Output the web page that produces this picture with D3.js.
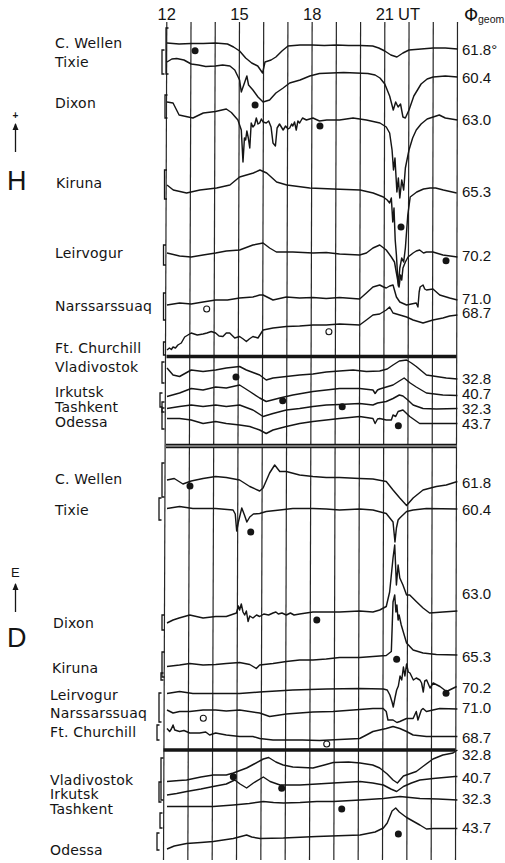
<!DOCTYPE html>
<html>
<head>
<meta charset="utf-8">
<script src="https://cdn.jsdelivr.net/npm/d3@7"></script>
<style>
body { margin: 0; background: #fff; }
svg text { fill: #141414; }
.name { font-family: "DejaVu Sans", sans-serif; font-size: 14px; letter-spacing: 0.2px; }
.lat { font-family: "Liberation Sans", sans-serif; font-size: 15px; }
.hdr { font-family: "Liberation Sans", sans-serif; font-size: 16.5px; }
</style>
</head>
<body>
<svg width="505" height="863"></svg>
<script>
// --- data (hour UT, trace level in chart units) ---
const gridHours = [12, 13, 14, 15, 16, 17, 18, 19, 20, 21, 22, 23, 24];
const hourLabels = ["12", "15", "18", "21"];
const stations = ["C. Wellen", "Tixie", "Dixon", "Kiruna", "Leirvogur", "Narssarssuaq",
  "Ft. Churchill", "Vladivostok", "Irkutsk", "Tashkent", "Odessa"];
const latH = ["61.8°", "60.4", "63.0", "65.3", "70.2", "71.0", "68.7", "32.8", "40.7", "32.3", "43.7"];
const latD = ["61.8", "60.4", "63.0", "65.3", "70.2", "71.0", "68.7", "32.8", "40.7", "32.3", "43.7"];

// H component
const hCWellen = [[12,43],[12.5,44],[13,43.5],[13.5,43.5],[14,43],[14.5,44],[14.75,47],[15,51],[15.25,58],[15.5,63],[15.75,66],[15.95,73],[16.05,62],[16.3,60],[16.5,57],[16.75,51],[17,46],[17.5,45],[18,45],[18.5,45.5],[19,45],[19.5,45.5],[20,45.5],[20.5,46],[20.75,48],[21,51],[21.25,55],[21.5,57],[21.75,53],[22,50],[22.5,49],[23,48],[23.5,48],[24,49]];
const hTixie = [[12,62],[12.2,59],[12.4,58.5],[12.7,60],[13,64],[13.3,65],[13.6,66.5],[14,66],[14.3,65],[14.6,66],[14.8,70],[15,80],[15.07,92],[15.2,83],[15.3,76],[15.37,85],[15.55,90],[15.76,97],[15.97,102],[16.24,100],[16.5,93],[16.8,88],[17.07,83],[17.5,80],[17.9,76],[18.3,73.5],[18.8,73],[19.3,72.5],[19.8,73],[20.3,73.5],[20.6,75],[20.8,78],[21,84],[21.2,96],[21.35,110],[21.45,102],[21.55,107],[21.65,104],[21.75,117],[21.85,118],[22,110],[22.2,96],[22.5,84],[22.75,79],[23,77],[23.5,76],[24,77]];
const hDixon = [[12,102],[12.25,103],[12.5,115],[13.07,118],[13.5,113],[14,111.5],[14.45,109],[14.66,112.5],[14.93,120],[15.07,130],[15.14,162],[15.2,138],[15.25,140],[15.3,131],[15.36,138],[15.42,148],[15.48,123],[15.55,127],[15.62,125],[15.69,118],[15.76,124],[15.83,123],[15.9,119],[15.97,122],[16.1,123],[16.2,121],[16.3,127],[16.38,143],[16.48,146],[16.55,128],[16.65,124],[16.8,130],[16.9,126],[17,129],[17.07,128],[17.15,124],[17.2,126],[17.27,122],[17.34,130],[17.41,121],[17.48,123],[17.6,118],[17.76,120],[18.03,118],[18.3,121],[18.6,120],[19.13,120],[19.69,118],[20.24,120],[20.8,123],[21.06,127],[21.2,133],[21.3,150],[21.36,170],[21.42,158],[21.5,192],[21.56,178],[21.62,198],[21.7,180],[21.78,190],[21.85,168],[22,150],[22.15,138],[22.3,130],[22.5,124],[22.75,119],[23,117],[23.25,115],[23.5,118],[24,120]];
const hKiruna = [[12,185],[12.26,190],[12.81,193],[13.36,190],[14.05,188],[14.6,185],[15,177],[15.57,173],[15.84,170],[16.12,173],[16.53,182],[16.95,185],[17.9,188],[18.87,189],[19.98,190],[20.52,193],[20.94,197],[21.1,200],[21.2,203],[21.27,198],[21.33,222],[21.38,208],[21.43,240],[21.48,255],[21.52,272],[21.56,286],[21.62,268],[21.7,258],[21.78,262],[21.85,248],[21.95,215],[22.05,197],[22.32,192],[22.6,189],[22.87,188],[23.1,188],[23.42,190],[23.97,193]];
const hLeirvogur = [[12,253],[12.52,256],[13,257],[13.49,255],[14.01,253],[14.45,251],[15,250],[15.55,245],[15.97,243],[16.24,248],[16.52,252],[17.2,252],[18.03,253],[18.58,252.5],[19.13,254],[19.96,255],[20.24,253],[20.51,248],[20.79,245],[21.06,250],[21.27,257],[21.4,262],[21.48,273],[21.53,280],[21.59,287],[21.65,275],[21.7,280],[21.75,268],[21.85,262],[21.96,257],[22.17,253],[22.3,251],[22.44,250],[22.6,253],[22.72,252],[22.99,252],[23.4,255],[24,257]];
const hNarssarssuaq = [[12,305],[12.52,303],[13,304],[13.49,302],[14.01,300],[14.5,300],[15,298],[15.55,297],[15.83,295],[15.97,295],[16.38,300],[16.93,297],[17.48,298],[18.03,297.5],[18.58,298.5],[19.13,297.5],[19.96,299],[20.24,293],[20.51,287],[20.79,285],[20.95,287],[21.06,288],[21.2,286],[21.34,285],[21.48,297],[21.62,302],[21.9,305],[22.1,304],[22.3,303],[22.37,307],[22.42,292],[22.46,287],[22.58,285],[22.65,289],[22.72,290],[22.99,289],[23.27,295],[23.68,298],[24,300]];
const hFtChurchill = [[12,350],[12.1,348],[12.18,349.5],[12.25,347],[12.35,348],[12.45,345],[12.59,343],[12.73,337],[13,333],[13.25,335],[13.49,334],[13.65,333],[13.83,331.5],[14.01,333],[14.15,336],[14.31,336.5],[14.45,333],[14.59,333],[14.8,338],[15,336.5],[15.15,339],[15.28,341.5],[15.4,339],[15.55,336.5],[15.76,338],[15.97,330],[16.38,328],[16.93,326.5],[17.48,326],[18.03,325],[18.58,325],[19.13,324],[19.96,325],[20.24,320],[20.51,315],[20.79,314],[21.06,310],[21.2,307],[21.34,313],[21.62,315],[21.9,317],[22.17,320],[22.58,323],[22.99,320],[23.4,318],[23.68,316],[24,315]];
const hVladivostok = [[12,368],[12.25,375],[12.52,376.5],[13,370],[13.49,371.5],[14.01,370],[14.45,368],[15,366.5],[15.28,370],[15.83,375],[16.1,380],[16.38,378],[16.93,376.5],[17.48,375],[18.03,374],[18.58,372],[19.13,371],[19.69,370],[20.24,371.5],[20.79,371],[21.1,369],[21.34,365],[21.6,361],[21.9,360],[22.1,363],[22.3,366.5],[22.72,375],[23.13,376.5],[23.54,378],[24,379]];
const hIrkutsk = [[12,396.5],[12.52,393],[13,388.5],[13.49,390],[14.01,387],[14.45,388],[15,385],[15.42,391.5],[15.83,398],[16.1,401.5],[16.66,398],[17.2,395],[18.03,391.5],[18.58,390],[19.13,388.5],[19.96,388.5],[20.51,390],[20.6,393.5],[20.7,390],[20.79,389],[21.34,385],[21.6,381],[21.8,378],[22.05,383],[22.3,387],[22.72,393],[23.4,395],[24,395.5]];
const hTashkent = [[12,408.5],[12.52,406.5],[13,405],[13.49,406.5],[14.01,405],[14.45,406.5],[15,405],[15.55,410],[15.97,416.5],[16.38,413.5],[16.93,410],[17.48,408.5],[18.03,406.5],[18.58,405],[19.13,404.5],[19.96,403.5],[20.51,405],[20.7,403],[21.06,401.5],[21.34,398.5],[21.6,395],[21.75,396],[21.95,400],[22.17,405],[22.58,408.5],[23.13,409],[24,408.5]];
const hOdessa = [[12,418.5],[12.52,418.5],[13,420],[13.49,423.5],[14.01,421.5],[14.45,423.5],[15,425],[15.42,426.5],[15.83,430],[16.1,433.5],[16.38,430],[16.93,426.5],[17.48,423.5],[18.03,421.5],[18.58,420],[19.13,418.5],[19.96,416.5],[20.51,418.5],[20.6,423.5],[20.7,419],[20.79,418.5],[21.06,420],[21.27,420],[21.34,415],[21.45,416.5],[21.55,411.5],[21.75,410],[22.03,416.5],[22.44,423.5],[22.99,423.5],[24,423.5]];

// D component
const dCWellen = [[12,480],[12.3,478.5],[12.66,484],[13,481],[13.49,478.5],[14.01,476.5],[14.45,477.5],[15,480],[15.42,486.5],[15.83,491],[15.97,488],[16.24,473],[16.45,465],[16.66,471.5],[16.93,471.5],[17.48,475],[18.03,476.5],[18.58,477.5],[19.13,477.5],[19.96,478.5],[20.51,479],[21.06,481.5],[21.34,490],[21.62,498],[21.9,505.5],[22.17,498],[22.58,490],[23.13,486.5],[23.54,485],[24,481.5]];
const dTixie = [[12,508.5],[12.52,506.5],[13.07,508.5],[14.01,508.5],[14.73,510],[14.82,514],[14.88,531],[14.95,522],[15.09,508],[15.2,515],[15.3,522],[15.42,517],[15.57,514],[15.83,513.5],[16.1,511.5],[16.66,510],[17.2,508.5],[18.03,508.5],[18.58,509],[19.13,510],[19.96,509],[20.51,510],[21.06,513.5],[21.34,522],[21.42,542],[21.48,528],[21.55,520],[21.62,518],[21.9,511.5],[22.17,510],[22.72,508.5],[24,509]];
const dDixon = [[12,623],[12.25,620],[12.5,618],[12.94,615],[13.49,618],[14.01,616.5],[14.45,616.5],[14.87,613],[14.95,606],[15,610],[15.07,604],[15.14,612],[15.21,615],[15.28,611],[15.35,621.5],[15.42,616],[15.55,618],[15.7,615],[15.83,616.5],[16,614],[16.2,615],[16.38,613],[16.5,612],[16.6,614],[16.75,613],[16.93,615],[17.1,613],[17.25,615],[17.48,614],[18.03,612],[18.58,612],[19.13,612],[19.96,611],[20.51,612],[20.79,610],[21.06,606.5],[21.2,592],[21.34,558],[21.41,545],[21.48,585],[21.55,565],[21.62,578],[21.75,585],[21.9,595],[22.03,595],[22.3,601.5],[22.58,608],[22.85,613],[23.4,612],[24,611]];
const dKiruna = [[12,666.5],[12.52,665],[12.94,663.5],[13.49,665],[14.01,664.5],[14.45,663.5],[15,662.5],[15.42,664.5],[15.69,668.5],[15.83,665],[16.38,663.5],[16.93,661.5],[17.48,660],[18.03,660],[18.58,659],[19.13,657.5],[19.96,657.5],[20.51,656.5],[21.06,655.5],[21.27,651.5],[21.34,602],[21.41,595],[21.46,612],[21.5,605],[21.55,620],[21.59,615],[21.68,625],[21.9,643],[22.17,650],[22.58,653],[23.13,654.5],[24,655]];
const dLeirvogur = [[12,693.5],[12.52,691.5],[13.07,693.5],[14.01,693.5],[15,693.5],[15.83,692],[17.2,690],[18.58,689],[19.96,688.5],[20.94,689],[21.1,690],[21.21,695],[21.3,702],[21.35,707],[21.42,698],[21.49,690],[21.56,686],[21.63,676],[21.7,680],[21.77,667],[21.83,676],[21.9,664],[21.97,672],[22.04,673],[22.18,680],[22.3,678],[22.45,680],[22.52,683],[22.59,692],[22.65,681],[22.73,680],[22.87,688],[23,683],[23.28,686.5],[23.55,691.5],[23.97,686.5]];
const dNarssarssuaq = [[12,710],[12.25,713],[12.52,711.5],[12.94,711.5],[13.49,710],[14.01,710],[14.45,711],[15,710],[15.83,713],[16.24,716.5],[16.93,714],[17.48,713],[18.03,712],[18.86,711.5],[19.69,710],[20.51,708.5],[20.93,708.5],[21.06,711.5],[21.13,720],[21.34,720],[21.5,722.5],[21.62,721.5],[21.9,718.5],[22.17,718.5],[22.3,711.5],[22.37,720],[22.51,710],[22.58,708.5],[22.72,711.5],[22.99,710],[23.27,708.5],[24,709]];
const dFtChurchill = [[12,728.5],[12.11,731.5],[12.18,729],[12.25,725],[12.32,730],[12.52,731.5],[12.7,730.5],[12.94,733],[13.35,733],[13.6,732],[13.76,735],[14.01,733],[14.45,735],[15,736.5],[15.55,736.5],[15.83,738.5],[16.38,740],[17,740],[17.6,740],[18.3,740.5],[19.13,739.5],[19.96,738.5],[20.24,735],[20.51,731.5],[21.06,728.5],[21.34,726.5],[21.62,728.5],[21.9,731.5],[22.17,735],[22.72,736.5],[23.4,736.5],[24,736.5]];
const dVladivostok = [[12,781.5],[12.5,780.5],[12.81,780],[13.4,777],[13.91,775],[14.45,775],[14.74,773],[15.29,768],[15.6,764],[15.98,759],[16.2,757.5],[16.5,762],[16.8,765],[17.2,767],[18.03,768],[18.5,765],[18.87,762.5],[19.5,762],[19.98,763],[20.5,765],[20.79,768],[21.1,774],[21.34,780],[21.52,783],[21.77,776],[22.3,771.5],[22.6,766],[22.99,759],[23.4,755],[23.82,753],[24,750]];
const dIrkutsk = [[12,795],[12.4,793.5],[12.81,791.5],[13.4,789],[13.91,786.5],[14.45,784],[14.8,780],[15.02,784],[15.29,788],[15.57,783],[15.98,777],[16.26,781.5],[16.67,785],[17.49,785],[18.2,784],[18.87,783],[19.98,781.5],[20.5,783],[20.94,785],[21.25,789],[21.49,791.5],[21.77,786.5],[22.1,783],[22.45,780],[23,778.5],[23.9,776.5],[24,776.5]];
const dTashkent = [[12,806.5],[12.81,806.5],[13.91,806.5],[14.74,805],[15.4,803.5],[15.98,801.5],[16.4,802.5],[16.81,803],[17.5,802.5],[18.19,801.5],[18.87,801.5],[19.98,800],[20.94,798.5],[21.63,796.5],[22.45,798.5],[23.2,799],[24,800]];
const dOdessa = [[12,849],[12.3,846],[12.81,843.5],[13.4,842.5],[13.91,841.5],[14.74,838.5],[15.29,835],[15.5,837],[15.84,838.5],[16.81,838],[18.19,836.5],[19.98,835],[20.6,832],[20.94,828],[21.1,823],[21.3,811],[21.45,808],[21.6,812],[21.9,817.5],[22.45,825],[22.72,829],[23,828.5],[24,828.5]];

// reference markers: [hour, level, filled]
const markersH = [[13.16,50.7,1],[15.64,105,1],[18.32,126,1],[21.67,227,1],[23.53,260.7,1],[13.64,309,0],[18.69,331.7,0],[14.85,377,1],[16.78,400.7,1],[19.24,406.7,1],[21.56,425.7,1]];
const markersD = [[12.95,486,1],[15.46,532,1],[18.19,620,1],[21.49,659.3,1],[23.53,693.3,1],[13.5,718.3,0],[18.6,744,0],[14.74,776.7,1],[16.74,788.3,1],[19.22,809,1],[21.56,834,1]];

const tracesH = [hCWellen, hTixie, hDixon, hKiruna, hLeirvogur, hNarssarssuaq, hFtChurchill, hVladivostok, hIrkutsk, hTashkent, hOdessa];
const tracesD = [dCWellen, dTixie, dDixon, dKiruna, dLeirvogur, dNarssarssuaq, dFtChurchill, dVladivostok, dIrkutsk, dTashkent, dOdessa];

// --- layout ---
const nameYH = [48, 67, 108, 188, 258, 311, 353, 372, 397, 412, 427];
const nameXH = [55, 55, 55, 56, 55, 55, 55, 55, 55, 55, 55];
const latYH = [55, 83, 125, 197, 261, 304, 318, 384, 399, 414, 429];
const nameYD = [484, 515, 628, 673, 700, 718, 737, 785, 799, 814, 855];
const nameXD = [55, 55, 53, 52, 50, 50, 50, 50, 50, 50, 50];
const latYD = [488, 515, 599, 662, 693, 713, 743, 760, 783, 804, 833];
const barsH = [[166,28,74],[162,50,74],[165,95,118],[164.5,170,199],[163.5,245,265],[163.5,293,320],[163.5,342,355],[162,362,383],[160,393,407],[162,402,412],[162,408,429]];
const barsD = [[162,463,497],[159,498,520],[162,615,630],[162,652,677],[161,673,680],[159,693,722],[157,725,740],[161,758,800],[159,782,802],[160,813,828],[157,833,850]];

const svg = d3.select("svg");
const ink = "#151515";

const x = d3.scaleLinear().domain([12, 24]).range([167, 457.4]);
const y = d3.scaleLinear().domain([0, 863]).range([0, 863]);
// the scanned grid is slightly skewed: top and bottom ends of each hour line
const xTop = d3.scaleLinear().domain([12, 24]).range([166.8, 457.5]);
const xBot = d3.scaleLinear().domain([12, 24]).range([163.5, 455.5]);

// hour grid
svg.append("g").selectAll("line")
  .data(gridHours)
  .enter().append("line")
  .attr("x1", d => xTop(d)).attr("y1", y(22))
  .attr("x2", d => xBot(d)).attr("y2", y(860))
  .attr("stroke", "#262626")
  .attr("stroke-width", 1.2);

// panel separators
svg.append("line").attr("x1", 166.5).attr("x2", 456.5).attr("y1", y(356.5)).attr("y2", y(356.5))
  .attr("stroke", ink).attr("stroke-width", 3.5);
svg.append("rect").attr("x", 166).attr("width", 290.5).attr("y", y(444.5)).attr("height", 3)
  .attr("fill", "#9a9a9a");
[444.5, 447.5].forEach(v => {
  svg.append("line").attr("x1", 166).attr("x2", 456.5).attr("y1", y(v)).attr("y2", y(v))
    .attr("stroke", ink).attr("stroke-width", 1.4);
});
svg.append("line").attr("x1", 163.5).attr("x2", 455.5).attr("y1", y(750)).attr("y2", y(750))
  .attr("stroke", ink).attr("stroke-width", 3.5);

// traces
const line = d3.line().x(d => x(d[0])).y(d => y(d[1]));
svg.append("g").selectAll("path")
  .data(tracesH.concat(tracesD))
  .enter().append("path")
  .attr("d", line)
  .attr("fill", "none")
  .attr("stroke", ink)
  .attr("stroke-width", 1.45)
  .attr("stroke-linejoin", "round");

// markers
svg.append("g").selectAll("circle")
  .data(markersH.concat(markersD))
  .enter().append("circle")
  .attr("cx", d => x(d[0]))
  .attr("cy", d => y(d[1]))
  .attr("r", d => d[2] ? 3.5 : 3)
  .attr("fill", d => d[2] ? ink : "#fff")
  .attr("stroke", ink)
  .attr("stroke-width", d => d[2] ? 0 : 1.1);

// scale bars
svg.append("g").selectAll("path")
  .data(barsH.concat(barsD))
  .enter().append("path")
  .attr("d", d => `M${d[0] + 2.5},${y(d[1])}H${d[0]}V${y(d[2])}H${d[0] + 2.5}`)
  .attr("fill", "none")
  .attr("stroke", ink)
  .attr("stroke-width", 1.3);

// station names and latitudes
const names = svg.append("g").attr("class", "name");
stations.forEach((s, i) => {
  names.append("text").attr("x", nameXH[i]).attr("y", nameYH[i]).text(s);
  names.append("text").attr("x", nameXD[i]).attr("y", nameYD[i]).text(s);
});
const lats = svg.append("g").attr("class", "lat");
latH.forEach((s, i) => lats.append("text").attr("x", 462).attr("y", latYH[i]).text(s));
latD.forEach((s, i) => lats.append("text").attr("x", 462).attr("y", latYD[i]).text(s));

// header
const hdr = svg.append("g").attr("class", "hdr");
hourLabels.forEach(h => {
  hdr.append("text").attr("x", xTop(+h)).attr("y", 20).attr("text-anchor", "middle").text(h);
});
hdr.append("text").attr("x", 398).attr("y", 20).text("UT");
svg.append("text").attr("x", 464).attr("y", 21)
  .style("font-family", "DejaVu Sans, sans-serif").style("font-size", "18px").text("Φ");
svg.append("text").attr("x", 478).attr("y", 23)
  .style("font-family", "Liberation Sans, sans-serif").style("font-size", "10.5px").text("geom");

// component labels with arrows
function arrow(cx, yTip, yEnd) {
  svg.append("line").attr("x1", cx).attr("x2", cx).attr("y1", yTip + 1).attr("y2", yEnd)
    .attr("stroke", ink).attr("stroke-width", 1.3);
  svg.append("path").attr("d", `M${cx - 3},${yTip + 7}L${cx},${yTip}L${cx + 3},${yTip + 7}Z`)
    .attr("fill", ink);
}
svg.append("text").attr("x", 15.5).attr("y", 119).attr("text-anchor", "middle")
  .style("font-family", "Liberation Sans, sans-serif").style("font-size", "10px")
  .style("font-weight", "bold").text("+");
arrow(15.5, 123, 152);
svg.append("text").attr("x", 7).attr("y", 190)
  .style("font-family", "Liberation Sans, sans-serif").style("font-size", "27px").text("H");

svg.append("text").attr("x", 11).attr("y", 577)
  .style("font-family", "Liberation Sans, sans-serif").style("font-size", "13px").text("E");
arrow(15.5, 583, 612);
svg.append("text").attr("x", 7).attr("y", 647)
  .style("font-family", "Liberation Sans, sans-serif").style("font-size", "27px").text("D");
</script>
</body>
</html>
